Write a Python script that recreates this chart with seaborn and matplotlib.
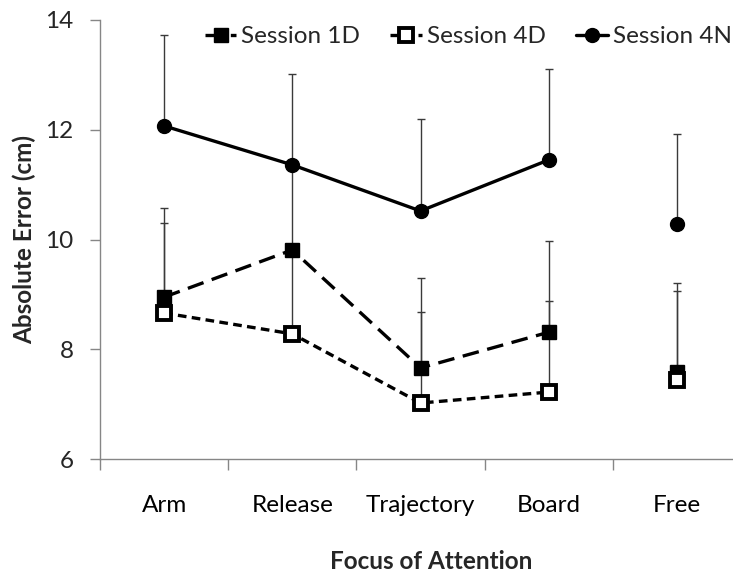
import numpy as np
import pandas as pd
import matplotlib
matplotlib.use("Agg")
import matplotlib.pyplot as plt
import seaborn as sns

categories = ["Arm", "Release", "Trajectory", "Board", "Free"]
session_1d = [8.95, 9.81, 7.66, 8.31, 7.58]
session_1d_err = [1.62, 1.55, 1.64, 1.66, 1.62]
session_4d = [8.66, 8.28, 7.02, 7.22, 7.44]
session_4d_err = [1.64, 1.53, 1.66, 1.66, 1.62]
session_4n = [12.07, 11.36, 10.52, 11.45, 10.28]
session_4n_err = [1.65, 1.65, 1.67, 1.65, 1.64]
series_names = ["Session 1D", "Session 4D", "Session 4N"]

sns.set_theme(style="white")
plt.rcParams["font.family"] = ["Lato", "DejaVu Sans"]
FS = 17.5

fig = plt.figure(figsize=(7.33, 5.75), dpi=100)
ax = fig.add_axes([100 / 733, 116 / 575, 641 / 733, 439 / 575])

x = np.arange(len(categories))
styles = {
    "Session 1D": dict(linestyle=(0, (5, 2.6)), marker="s", markersize=10,
                       markerfacecolor="black", markeredgecolor="black", markeredgewidth=1),
    "Session 4D": dict(linestyle=(0, (2.6, 1.6)), marker="s", markersize=10,
                       markerfacecolor="white", markeredgecolor="black", markeredgewidth=2.8),
    "Session 4N": dict(linestyle="-", marker="o", markersize=10,
                       markerfacecolor="black", markeredgecolor="black", markeredgewidth=1),
}
data = {"Session 1D": (session_1d, session_1d_err),
        "Session 4D": (session_4d, session_4d_err),
        "Session 4N": (session_4n, session_4n_err)}

# error bars (upper only)
for name in series_names:
    vals, errs = data[name]
    ax.errorbar(x, vals, yerr=[np.zeros(len(vals)), errs], fmt="none",
                ecolor="#3a3a3a", elinewidth=1.0, capsize=3, capthick=1.0, zorder=2)

for name in series_names:
    vals, errs = data[name]
    df = pd.DataFrame({"x": x[:4], "y": vals[:4]})
    sns.lineplot(data=df, x="x", y="y", ax=ax, color="black", linewidth=2.4,
                 label=name, zorder=3, **styles[name])
    dff = pd.DataFrame({"x": x[4:], "y": vals[4:]})
    sns.lineplot(data=dff, x="x", y="y", ax=ax, color="black", linewidth=2.4,
                 zorder=3, **styles[name])

ax.set_xlim(-0.5, 4.5)
ax.set_ylim(6, 14)
ax.set_yticks([6, 8, 10, 12, 14])
ax.set_xticks(x)
ax.set_xticklabels(categories)
ax.set_xticks(np.arange(-0.5, 4.0, 1.0), minor=True)
ax.tick_params(axis="x", which="major", length=0, pad=26, labelsize=FS, colors="black")
ax.tick_params(axis="x", which="minor", length=8, width=1, color="#868686", direction="out", bottom=True)
ax.tick_params(axis="y", which="major", length=7, width=1, color="#868686", direction="out",
               pad=12, labelsize=FS, left=True)
for s in ["top", "right"]:
    ax.spines[s].set_visible(False)
for s in ["left", "bottom"]:
    ax.spines[s].set_color("#868686")
    ax.spines[s].set_linewidth(1)
ax.grid(False)

ax.set_xlabel("Focus of Attention", fontsize=FS, fontweight="bold")
ax.set_ylabel("Absolute Error (cm)", fontsize=FS, fontweight="bold")
ax.xaxis.set_label_coords(0.517, -0.207)
ax.yaxis.set_label_coords(-0.10, 0.5)

leg = ax.legend(loc="upper left", bbox_to_anchor=(95 / 641, 1.008), ncol=3, frameon=False,
                fontsize=FS, handlelength=1.3, handletextpad=0.2, columnspacing=1.25,
                borderaxespad=0)

fig.savefig("out.png", dpi=100)
